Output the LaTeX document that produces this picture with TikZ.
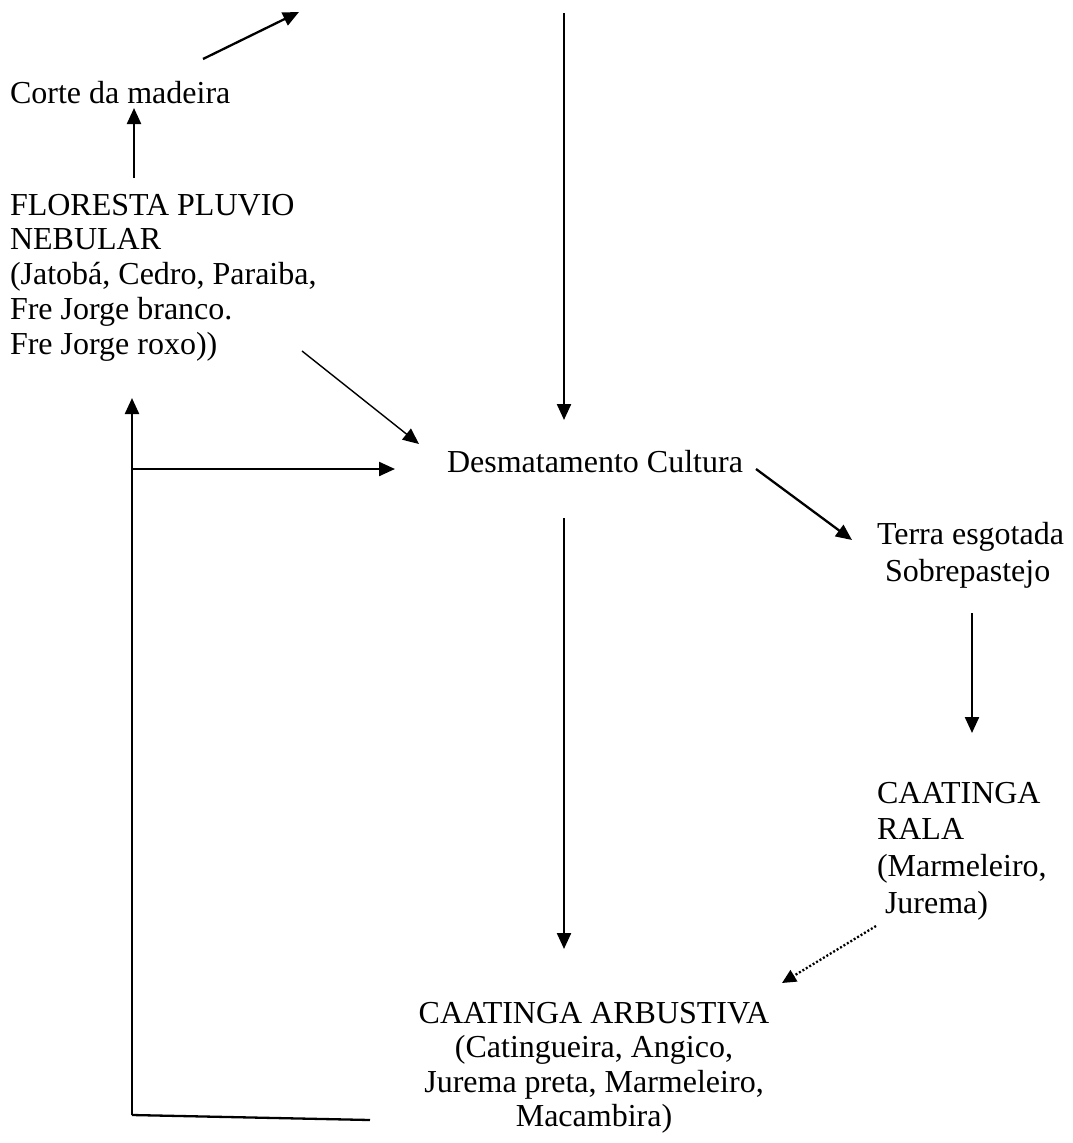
\documentclass[tikz,border=0pt]{standalone}
\usepackage{fontspec}
\setmainfont{Liberation Serif}
\usetikzlibrary{arrows.meta}
\begin{document}
\begin{tikzpicture}[x=1pt,y=-1pt,
  lbl/.style={inner sep=0pt, outer sep=0pt, font=\fontsize{32}{34.8}\selectfont, align=left, anchor=north west},
  arr/.style={line width=2.3pt, -{Triangle[length=16pt,width=14pt]}},
  thinarr/.style={line width=1.4pt, -{Triangle[length=16pt,width=14pt]}},
  dotarr/.style={line width=2.3pt, dash pattern=on 2pt off 2pt, -{Triangle[length=14pt,width=13pt]}},
  plainline/.style={line width=2.3pt}]
\useasboundingbox (0,0) rectangle (1072,1143);

% text nodes
\node[lbl] (corte) at (10,81) {Corte da madeira};
\node[lbl] (floresta) at (10,194) {FLORESTA PLUVIO\\NEBULAR\\(Jatobá, Cedro, Paraiba,\\Fre Jorge branco.\\Fre Jorge roxo))};
\node[lbl] (desm) at (447,450) {Desmatamento Cultura};
\node[lbl, font=\fontsize{32}{37}\selectfont] (terra) at (877,522) {Terra esgotada\\\hspace*{0.25em}Sobrepastejo};
\node[lbl, font=\fontsize{32}{36.7}\selectfont] (rala) at (877,782) {CAATINGA\\RALA\\(Marmeleiro,\\\hspace*{0.25em}Jurema)};
\node[lbl, font=\fontsize{32}{34.4}\selectfont, align=center, anchor=north] (arb) at (594,1002) {CAATINGA ARBUSTIVA\\(Catingueira, Angico,\\Jurema preta, Marmeleiro,\\Macambira)};

% connector end points
\coordinate (topS) at (203,59);
\coordinate (topE) at (299,12);
\coordinate (upS) at (134,178);
\coordinate (upE) at (134,108);
\coordinate (diagS) at (302,351);
\coordinate (diagE) at (419,444);
\coordinate (vtopS) at (564,13);
\coordinate (vtopE) at (564,420);
\coordinate (loopBR) at (370,1120);
\coordinate (loopBL) at (132,1115);
\coordinate (loopTop) at (132,398);
\coordinate (loopMid) at (132,469);
\coordinate (horE) at (395,469);
\coordinate (terS) at (756,469);
\coordinate (terE) at (852,540);
\coordinate (ralaS) at (972,613);
\coordinate (ralaE) at (972,733);
\coordinate (dotS) at (876,926);
\coordinate (dotE) at (782,983);
\coordinate (vlowS) at (564,518);
\coordinate (vlowE) at (564,949);

% connectors
\draw[arr] (topS) -- (topE);
\draw[arr] (upS) -- (upE);
\draw[thinarr] (diagS) -- (diagE);
\draw[arr] (vtopS) -- (vtopE);
\draw[plainline] (loopBR) -- (loopBL);
\draw[arr] (loopBL) -- (loopTop);
\draw[arr] (loopMid) -- (horE);
\draw[arr] (terS) -- (terE);
\draw[arr] (ralaS) -- (ralaE);
\draw[dotarr] (dotS) -- (dotE);
\draw[arr] (vlowS) -- (vlowE);
\end{tikzpicture}
\end{document}
